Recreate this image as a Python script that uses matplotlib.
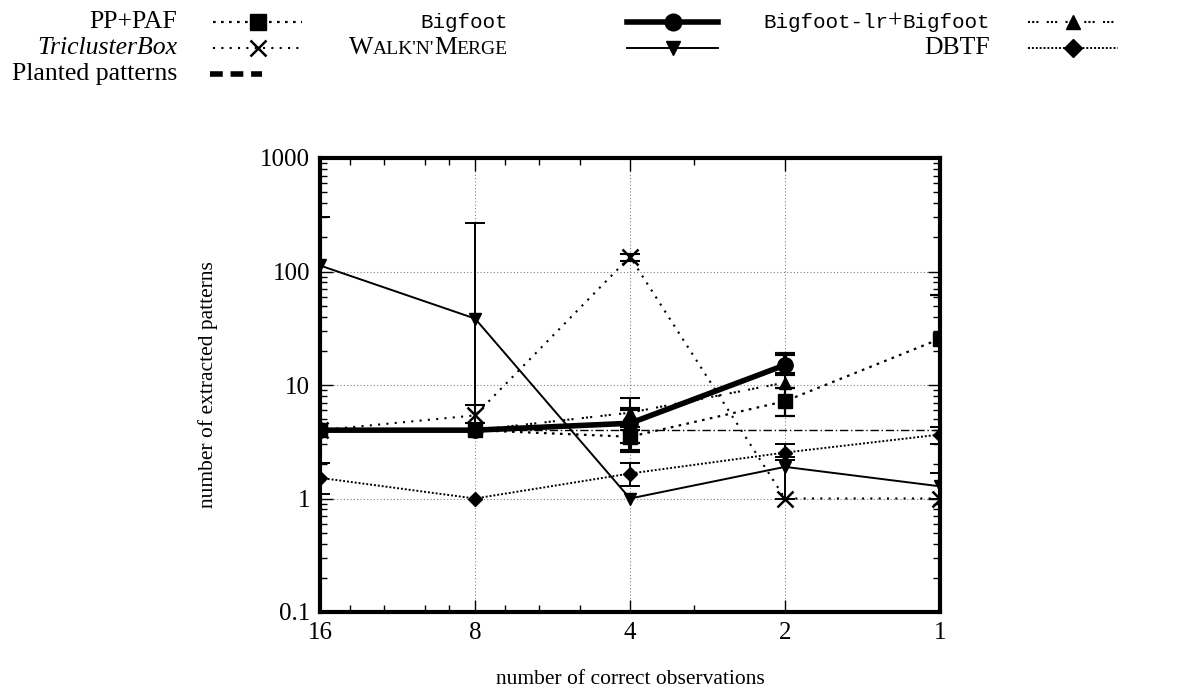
"""
Number of extracted patterns vs. number of correct observations.
"""
import matplotlib
matplotlib.use("Agg")
import matplotlib.pyplot as plt
import numpy as np
from matplotlib.lines import Line2D
from matplotlib.offsetbox import TextArea, HPacker, AnnotationBbox

plt.rcParams['font.family'] = ['Liberation Serif', 'DejaVu Serif']
plt.rcParams['font.size'] = 15

W, H = 1179, 693

# data
obs = [16, 8, 4, 2, 1]
nan = np.nan

pp_val = [4.0, 4.0, 3.5, 7.2, 25.5]
pp_lo = [nan, nan, 3.1, 5.3, 0.001]
pp_hi = [nan, nan, 4.0, 9.4, 62.0]

tcb_val = [4.0, 5.4, 135.0, 1.0, 1.0]
tcb_lo = [nan, 4.6, 125.0, nan, nan]
tcb_hi = [nan, 6.7, 143.0, nan, nan]

bf_val = [4.0, 4.0, 4.6, 15.0, nan]
bf_lo = [nan, nan, 2.6, 12.6, nan]
bf_hi = [nan, nan, 6.2, 18.6, nan]

wnm_val = [113.0, 38.5, 1.0, 1.9, 1.28]
wnm_lo = [0.001, 6.7, nan, 1.0, 1.0]
wnm_hi = [305.0, 270.0, nan, 2.3, 1.69]

bflr_val = [4.0, 4.0, 5.7, 10.5, nan]
bflr_lo = [nan, nan, 4.3, 9.4, nan]
bflr_hi = [nan, nan, 7.7, 12.6, nan]

dbtf_val = [1.52, 1.0, 1.66, 2.54, 3.66]
dbtf_lo = [1.1, nan, 1.3, 2.2, 3.05]
dbtf_hi = [2.07, nan, 2.07, 3.05, 4.3]

planted_val = [4, 4, 4, 4, 4]

x_major = [16, 8, 4, 2, 1]
x_minor = [14, 12, 10, 9, 7, 6, 5, 3]
y_major = [0.1, 1, 10, 100, 1000]
y_labels = ['0.1', '1', '10', '100', '1000']

fig = plt.figure(figsize=(W / 100, H / 100), dpi=100)
ax = fig.add_axes([320 / W, 1 - 612 / H, 620 / W, 454 / H])

styles = {
    'pp': dict(ls=(0, (1.2, 2.4)), lw=1.6, marker='s', ms=10),
    'tcb': dict(ls=(0, (1, 3)), lw=1.5, marker='x', ms=11, mew=1.8),
    'bf': dict(ls='-', lw=4, marker='o', ms=11),
    'wnm': dict(ls='-', lw=1.4, marker='v', ms=9),
    'bflr': dict(ls=(0, (1, 1, 1, 1, 1, 4)), lw=1.5, marker='^', ms=9),
    'dbtf': dict(ls=(0, (1, 1)), lw=1.4, marker='D', ms=7),
}
err_lw = {'pp': 1.6, 'tcb': 1.5, 'bf': 3, 'wnm': 1.4, 'bflr': 1.5, 'dbtf': 1.4}

series = [
    ('pp', pp_val, pp_lo, pp_hi),
    ('tcb', tcb_val, tcb_lo, tcb_hi),
    ('wnm', wnm_val, wnm_lo, wnm_hi),
    ('dbtf', dbtf_val, dbtf_lo, dbtf_hi),
    ('bflr', bflr_val, bflr_lo, bflr_hi),
    ('bf', bf_val, bf_lo, bf_hi),
]

# planted patterns reference line
ax.plot(obs, planted_val, color='black', lw=1.0, ls=(0, (6, 2, 1, 2)), zorder=2)

for key, val, lo, hi in series:
    val = np.array(val)
    lo = np.array(lo)
    hi = np.array(hi)
    ax.plot(obs, val, color='black', zorder=3, **styles[key])
    m = np.isfinite(lo)
    xs = np.array(obs)[m]
    ax.errorbar(xs, val[m], yerr=[val[m] - lo[m], hi[m] - val[m]], fmt='none',
                ecolor='black', elinewidth=err_lw[key], capsize=7,
                capthick=err_lw[key], zorder=3)

ax.set_xscale('log')
ax.set_yscale('log')
ax.set_xlim(16, 1)
ax.set_ylim(0.1, 1000)
ax.set_xticks(x_major)
ax.set_xticklabels([str(v) for v in x_major])
ax.set_xticks(x_minor, minor=True)
ax.set_xticklabels([], minor=True)
ax.set_yticks(y_major)
ax.set_yticklabels(y_labels)
ax.tick_params(which='both', direction='in', top=True, right=True, width=1)
ax.tick_params(which='major', length=9, pad=7, labelsize=18)
ax.tick_params(which='minor', length=5)
ax.grid(True, which='major', color='gray', ls=(0, (1, 2)), lw=0.8)
for sp in ax.spines.values():
    sp.set_linewidth(3)

ax.set_xlabel('number of correct observations', fontsize=15.5)
ax.set_ylabel('number of extracted patterns', fontsize=15.5)
ax.xaxis.set_label_coords(0.5, (612 - 670) / 454)
ax.yaxis.set_label_coords((218 - 320) / 620, 0.5)

# key, laid out like the gnuplot one: label right-aligned, sample on its right
def fx(px):
    return px / W


def fy(py):
    return 1 - py / H


def label_box(parts, right, y):
    areas = [TextArea(t, textprops=p) for t, p in parts]
    box = HPacker(children=areas, align='baseline', pad=0, sep=0)
    ab = AnnotationBbox(box, (fx(right), fy(y)), xycoords='figure fraction',
                        box_alignment=(1, 0.5), frameon=False, pad=0)
    fig.add_artist(ab)


fam = ['Liberation Serif', 'DejaVu Serif']
serif = dict(family=fam, size=18.5)
serif_it = dict(family=fam, size=18.5, style='italic')
serif_sc = dict(family=fam, size=14)
mono = dict(family=['Liberation Mono', 'DejaVu Sans Mono'], size=15)

key_entries = [
    ([('PP+PAF', serif)], 'pp', 0, 0),
    ([('Bigfoot', mono)], 'bf', 1, 0),
    ([('Bigfoot-lr', mono), ('+', serif), ('Bigfoot', mono)], 'bflr', 2, 0),
    ([('TriclusterBox', serif_it)], 'tcb', 0, 1),
    ([('W', serif), ("ALK'N'", serif_sc), ('M', serif), ('ERGE', serif_sc)], 'wnm', 1, 1),
    ([('DBTF', serif)], 'dbtf', 2, 1),
]
label_right = [177, 508, 990]
sample_span = [(213, 302), (627, 718), (1028, 1118)]
row_y = [22, 48, 74]
key_ms = {'pp': 12, 'tcb': 12, 'bf': 12, 'wnm': 10, 'bflr': 10, 'dbtf': 9}

for parts, key, col, row in key_entries:
    label_box(parts, label_right[col], row_y[row])
    x0, x1 = sample_span[col]
    st = dict(styles[key])
    mk = st.pop('marker')
    st.pop('ms')
    mew = st.pop('mew', 1)
    fig.add_artist(Line2D([fx(x0), fx(x1)], [fy(row_y[row])] * 2,
                          transform=fig.transFigure, color='black', **st))
    fig.add_artist(Line2D([fx((x0 + x1) / 2)], [fy(row_y[row])],
                          transform=fig.transFigure, color='black', ls='none',
                          marker=mk, ms=key_ms[key], mew=mew))

label_box([('Planted patterns', serif)], label_right[0], row_y[2])
fig.add_artist(Line2D([fx(210), fx(262)], [fy(row_y[2])] * 2,
                      transform=fig.transFigure, color='black', lw=4,
                      ls=(0, (2.3, 1.4))))

fig.savefig('out.png', dpi=100)
